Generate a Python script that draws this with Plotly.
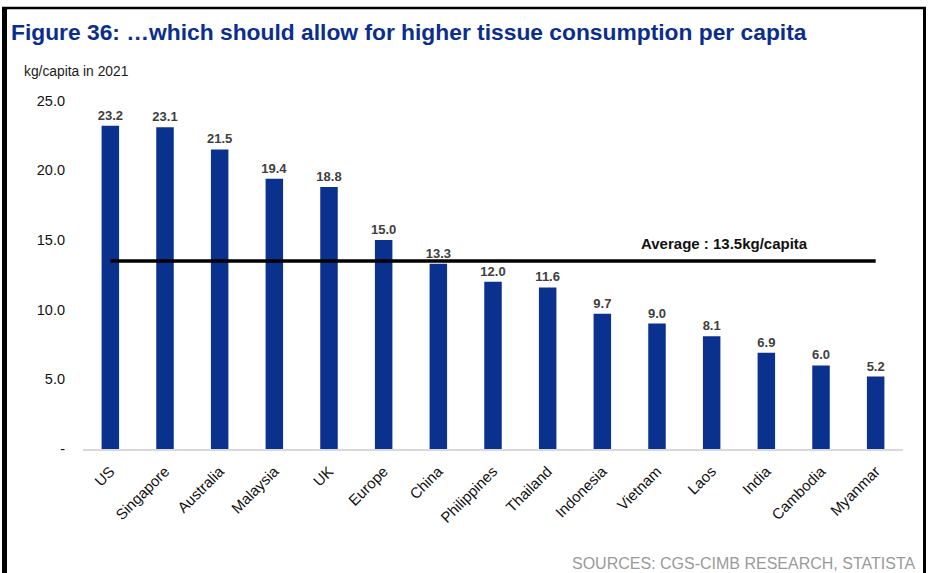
import plotly.graph_objects as go

countries = ["US", "Singapore", "Australia", "Malaysia", "UK", "Europe", "China",
             "Philippines", "Thailand", "Indonesia", "Vietnam", "Laos", "India",
             "Cambodia", "Myanmar"]
values = [23.2, 23.1, 21.5, 19.4, 18.8, 15.0, 13.3, 12.0, 11.6, 9.7, 9.0, 8.1, 6.9, 6.0, 5.2]
average = 13.5
ytick_vals = [0, 5, 10, 15, 20, 25]
ytick_text = ["-", "5.0", "10.0", "15.0", "20.0", "25.0"]

W, H = 930, 573
L, R, T, B = 83, 27, 100, 124
pw, ph = W - L - R, H - T - B

def px(x):
    return (x - L) / pw

def py(y):
    return (H - B - y) / ph

fig = go.Figure()
fig.add_trace(go.Bar(
    x=countries, y=values,
    marker=dict(color="#0B318F", line=dict(width=0)),
    text=[f"{v:.1f}" for v in values],
    textposition="outside",
    textfont=dict(family="Arial, Liberation Sans, sans-serif", size=13, color="#404040"),
    texttemplate="<b>%{text}</b>",
    constraintext="none",
    cliponaxis=False,
    width=0.32,
    showlegend=False,
))
fig.add_trace(go.Scatter(
    x=[countries[0], countries[-1]], y=[average, average],
    mode="lines", line=dict(color="black", width=3.5),
    showlegend=False, hoverinfo="skip",
))

font = "Arial, Liberation Sans, sans-serif"
annotations = [
    dict(text="<b>Figure 36: …which should allow for higher tissue consumption per capita</b>",
         xref="paper", yref="paper", x=px(9), y=py(32), xanchor="left", yanchor="middle",
         showarrow=False, font=dict(family=font, size=22.8, color="#0B2E8E")),
    dict(text="kg/capita in 2021", xref="paper", yref="paper", x=px(22), y=py(72),
         xanchor="left", yanchor="middle", showarrow=False,
         font=dict(family=font, size=13.8, color="#1a1a1a")),
    dict(text="<b>Average : 13.5kg/capita</b>", xref="x", yref="y", x=11.24, y=average,
         xanchor="center", yanchor="bottom", yshift=7, showarrow=False,
         font=dict(family=font, size=15, color="#111111")),
    dict(text="SOURCES: CGS-CIMB RESEARCH, STATISTA", xref="paper", yref="paper",
         x=px(917), y=py(563), xanchor="right", yanchor="middle", showarrow=False,
         font=dict(family=font, size=16, color="#9a9a9a")),
]

shapes = [
    dict(type="line", xref="paper", yref="paper", x0=px(4.5), x1=px(4.5), y0=py(7), y1=py(600),
         line=dict(color="black", width=5)),
    dict(type="line", xref="paper", yref="paper", x0=px(2), x1=px(926), y0=py(8), y1=py(8),
         line=dict(color="black", width=2.5)),
    dict(type="line", xref="paper", yref="paper", x0=px(924.5), x1=px(924.5), y0=py(7), y1=py(600),
         line=dict(color="black", width=3)),
]

fig.update_layout(
    width=W, height=H,
    margin=dict(l=L, r=R, t=T, b=B, pad=0),
    paper_bgcolor="white", plot_bgcolor="white",
    annotations=annotations, shapes=shapes,
    font=dict(family=font),
    bargap=0.68,
)
fig.update_xaxes(
    showgrid=False, showline=True, linecolor="#d9d9d9", linewidth=1.5,
    tickangle=-45, tickfont=dict(family=font, size=15, color="#111111"),
    ticks="", range=[-0.5, 14.5], ticklabelstandoff=6,
)
fig.update_yaxes(
    showgrid=False, showline=False, zeroline=False, range=[0, 25.05],
    tickvals=ytick_vals, ticktext=ytick_text, ticks="",
    tickfont=dict(family=font, size=14.5, color="#111111"),
    ticklabelstandoff=17,
)

fig.write_html("out.html", config={"displayModeBar": False},
               post_script="document.body.style.margin='0';document.body.style.padding='0';document.body.style.overflow='hidden';")
